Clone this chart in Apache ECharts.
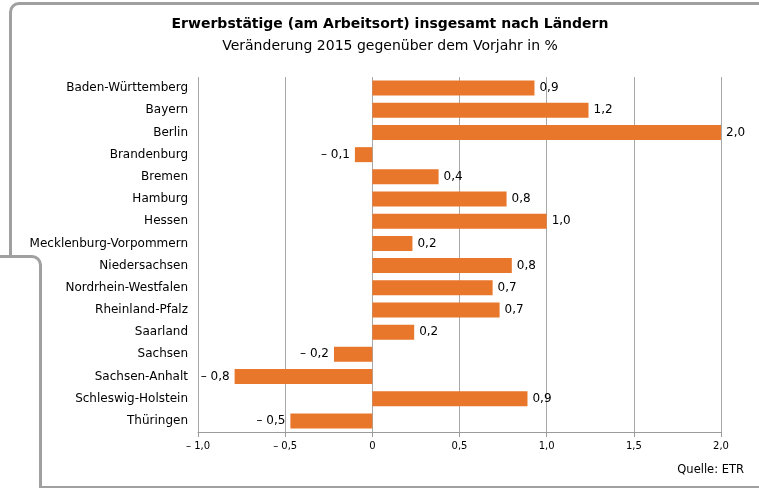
<!DOCTYPE html>
<html>
<head>
<meta charset="utf-8">
<script src="https://cdn.jsdelivr.net/npm/echarts@6/dist/echarts.min.js"></script>
<style>
html,body{margin:0;padding:0;background:#fff;}
#chart{width:759px;height:488px;}
</style>
</head>
<body>
<div id="chart"></div>
<script>
const categories = ["Baden-Württemberg","Bayern","Berlin","Brandenburg","Bremen","Hamburg","Hessen","Mecklenburg-Vorpommern","Niedersachsen","Nordrhein-Westfalen","Rheinland-Pfalz","Saarland","Sachsen","Sachsen-Anhalt","Schleswig-Holstein","Thüringen"];
const values = [0.93, 1.24, 2.0, -0.1, 0.38, 0.77, 1.0, 0.23, 0.8, 0.69, 0.73, 0.24, -0.22, -0.79, 0.89, -0.47];
const tickValues = [-1.0, -0.5, 0, 0.5, 1.0, 1.5, 2.0];

const FONT = "'DejaVu Sans', Verdana, sans-serif";
function fmt(v) {
  const s = Math.abs(v).toFixed(1).replace('.', ',');
  return (v < -0.0001 ? '\u2013 ' : '') + s;
}
function tickFmt(v) {
  if (Math.abs(v) < 1e-9) return '0';
  return fmt(v);
}

const chart = echarts.init(document.getElementById('chart'));
const grey = '#9b9b9b';
const frame = '#a0a0a0';
chart.setOption({
  animation: false,
  backgroundColor: '#fff',
  title: [
    {text: 'Erwerbstätige (am Arbeitsort) insgesamt nach Ländern', left: 385, top: 12, textAlign: 'center',
     textStyle: {fontFamily: FONT, fontSize: 14, fontWeight: 'bold', color: '#000'}},
    {text: 'Veränderung 2015 gegenüber dem Vorjahr in %', left: 385, top: 34, textAlign: 'center',
     textStyle: {fontFamily: FONT, fontSize: 14, fontWeight: 'normal', color: '#000'}}
  ],
  grid: {left: 198, right: 38, top: 77, bottom: 56, containLabel: false},
  xAxis: {
    type: 'value', min: tickValues[0], max: tickValues[tickValues.length-1], interval: 0.5,
    axisLine: {show: true, lineStyle: {color: grey, width: 1}},
    axisTick: {show: true, length: 5, lineStyle: {color: grey}},
    splitLine: {show: true, lineStyle: {color: '#a8a8a8', width: 1}},
    axisLabel: {fontFamily: FONT, fontSize: 10, color: '#000', margin: 9, formatter: v => tickFmt(v)}
  },
  yAxis: {
    type: 'category', inverse: true, data: categories,
    axisLine: {show: false}, axisTick: {show: false},
    axisLabel: {fontFamily: FONT, fontSize: 12, color: '#000', margin: 10}
  },
  series: [{
    type: 'bar', barWidth: 15,
    itemStyle: {color: '#E8762B'},
    data: values.map(v => ({value: v, label: {position: v < 0 ? 'left' : 'right'}})),
    label: {show: true, distance: 5, fontFamily: FONT, fontSize: 12, color: '#000', formatter: p => fmt(p.value)}
  }],
  graphic: [
    {type: 'polyline', shape: {points: [[759, 3.5], [19, 3.5]]}, style: {fill: null, stroke: frame, lineWidth: 3}},
    {type: 'arc', shape: {cx: 19, cy: 12, r: 8.5, startAngle: Math.PI, endAngle: Math.PI * 1.5, clockwise: true},
     style: {fill: null, stroke: frame, lineWidth: 3}},
    {type: 'polyline', shape: {points: [[10.5, 12], [10.5, 256]]}, style: {fill: null, stroke: frame, lineWidth: 3}},
    {type: 'polyline', shape: {points: [[0, 256.5], [32, 256.5]]}, style: {fill: null, stroke: frame, lineWidth: 3}},
    {type: 'arc', shape: {cx: 32, cy: 265, r: 8.5, startAngle: Math.PI * 1.5, endAngle: Math.PI * 2, clockwise: true},
     style: {fill: null, stroke: frame, lineWidth: 3}},
    {type: 'polyline', shape: {points: [[40.5, 265], [40.5, 488]]}, style: {fill: null, stroke: frame, lineWidth: 3}},
    {type: 'line', shape: {x1: 40, y1: 487, x2: 759, y2: 487}, style: {stroke: frame, lineWidth: 2}},
    {type: 'text', right: 15, top: 464,
     style: {text: 'Quelle: ETR', fontFamily: FONT, fontSize: 11.5, fill: '#000'}}
  ]
});
</script>
</body>
</html>
